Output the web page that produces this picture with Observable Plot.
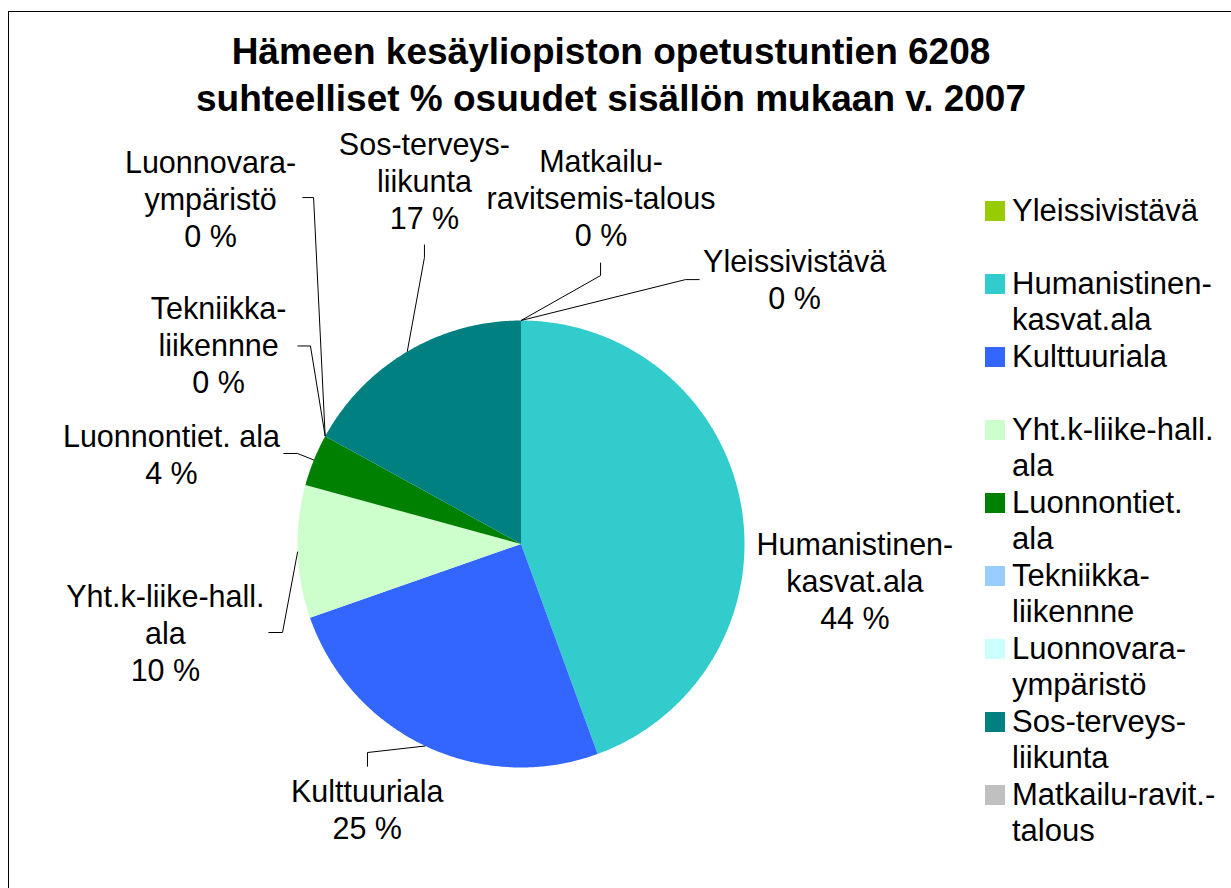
<!DOCTYPE html>
<html>
<head>
<meta charset="utf-8">
<script src="https://cdn.jsdelivr.net/npm/d3@7"></script>
<script src="https://cdn.jsdelivr.net/npm/@observablehq/plot@0.6"></script>
<style>
  html, body { margin: 0; padding: 0; background: #fff; }
  #wrap { position: relative; width: 1231px; height: 888px; overflow: hidden; background: #fff;
          font-family: "Liberation Sans", Arial, sans-serif; color: #000; }
  #frame { position: absolute; left: 8px; top: 11px; width: 1300px; height: 1000px;
           border-left: 1.5px solid #000; border-top: 1.5px solid #000; }
  #chart { position: absolute; left: 0; top: 0; }
  #title { position: absolute; left: 0; top: 29px; width: 1222px; text-align: center;
           font-weight: bold; font-size: 37px; line-height: 46.5px; }
  #legend { position: absolute; left: 985px; top: 0; }
  .item { position: absolute; left: 0; width: 240px; height: 73px; }
  .sw { position: absolute; left: 0; width: 20px; height: 20px; }
  .lt { position: absolute; left: 27px; font-size: 31px; line-height: 36.5px; white-space: pre; }
</style>
</head>
<body>
<div id="wrap">
  <div id="frame"></div>
  <div id="chart"></div>
  <div id="title">Hämeen kesäyliopiston opetustuntien 6208<br>suhteelliset % osuudet sisällön mukaan v. 2007</div>
  <div id="legend"></div>
</div>
<script>
// ---- data ----
const categories = [
  "Yleissivistävä",
  "Humanistinen-kasvat.ala",
  "Kulttuuriala",
  "Yht.k-liike-hall. ala",
  "Luonnontiet. ala",
  "Tekniikka-liikennne",
  "Luonnovara-ympäristö",
  "Sos-terveys-liikunta",
  "Matkailu-ravitsemis-talous"
];
const hours = [0, 2758, 1566, 596, 233, 0, 0, 1055, 0];
const colors = ["#99CC00", "#33CCCC", "#3366FF", "#CCFFCC", "#008000", "#99CCFF", "#CCFFFF", "#008080", "#C0C0C0"];
const pieLabels = [
  "Yleissivistävä",
  "Humanistinen-\nkasvat.ala",
  "Kulttuuriala",
  "Yht.k-liike-hall.\nala",
  "Luonnontiet. ala",
  "Tekniikka-\nliikennne",
  "Luonnovara-\nympäristö",
  "Sos-terveys-\nliikunta",
  "Matkailu-\nravitsemis-talous"
];
const legendLabels = [
  "Yleissivistävä",
  "Humanistinen-\nkasvat.ala",
  "Kulttuuriala",
  "Yht.k-liike-hall.\nala",
  "Luonnontiet.\nala",
  "Tekniikka-\nliikennne",
  "Luonnovara-\nympäristö",
  "Sos-terveys-\nliikunta",
  "Matkailu-ravit.-\ntalous"
];

// ---- layout (pie placement in px, label placement in pie-radius units) ----
const CX = 520.5, CY = 543.5, R = 223.5;
const labelLayout = [
  {t: [1.224, 1.188],  e: [0.736, 1.183],  f: [0.799, 1.183]},
  {t: [1.494, -0.161], e: null,            f: null},
  {t: [-0.688, -1.183], e: [-0.687, -0.933], f: [-0.687, -0.996]},
  {t: [-1.591, -0.396], e: [-1.067, -0.396], f: [-1.130, -0.396]},
  {t: [-1.564, 0.403],  e: [-1.000, 0.405],  f: [-1.063, 0.405]},
  {t: [-1.353, 0.893],  e: [-0.942, 0.886],  f: [-1.000, 0.886]},
  {t: [-1.389, 1.548],  e: [-0.928, 1.550],  f: [-0.978, 1.550]},
  {t: [-0.432, 1.629],  e: [-0.432, 1.282],  f: [-0.432, 1.340]},
  {t: [0.358, 1.550],   e: [0.356, 1.201],   f: [0.356, 1.259]}
];

// ---- build ----
const arcs = d3.pie().sort(null).value(d => d)(hours);
const total = d3.sum(hours);

const wedges = [];
arcs.forEach((p, i) => {
  const span = p.endAngle - p.startAngle;
  if (span <= 0) return;
  const cat = categories[i];
  const n = Math.max(2, Math.ceil(span / (Math.PI / 360)));
  wedges.push({cat, x: 0, y: 0});
  for (let k = 0; k <= n; k++) {
    const a = p.startAngle + span * k / n;
    wedges.push({cat, x: Math.sin(a), y: Math.cos(a)});
  }
  wedges.push({cat, x: 0, y: 0});
});

const leaders = [];
arcs.forEach((p, i) => {
  const L = labelLayout[i];
  if (!L.e) return;
  const mid = (p.startAngle + p.endAngle) / 2;
  const cat = categories[i];
  leaders.push({cat, x: Math.sin(mid), y: Math.cos(mid)});
  leaders.push({cat, x: L.e[0], y: L.e[1]});
  leaders.push({cat, x: L.f[0], y: L.f[1]});
});

const labels = arcs.map((p, i) => ({
  x: labelLayout[i].t[0],
  y: labelLayout[i].t[1],
  text: pieLabels[i] + "\n" + Math.round(hours[i] / total * 100) + " %"
}));

const plot = Plot.plot({
  width: 1231,
  height: 888,
  margin: 0,
  style: {background: "transparent", overflow: "visible"},
  x: {domain: [-1, 1], range: [CX - R, CX + R], axis: null},
  y: {domain: [-1, 1], range: [CY + R, CY - R], axis: null},
  color: {domain: categories, range: colors},
  marks: [
    Plot.line(wedges, {x: "x", y: "y", z: "cat", fill: "cat", stroke: "none", curve: "linear"}),
    Plot.line(leaders, {x: "x", y: "y", z: "cat", stroke: "#000", strokeWidth: 1, strokeLinecap: "butt", strokeLinejoin: "miter"}),
    Plot.text(labels, {x: "x", y: "y", text: "text", fontSize: 30.5, lineHeight: 37 / 30.5,
      fontFamily: "Liberation Sans, Arial, sans-serif", fill: "#000", textAnchor: "middle"})
  ]
});
document.getElementById("chart").appendChild(plot);

// ---- legend ----
const legend = document.getElementById("legend");
categories.forEach((c, i) => {
  const item = document.createElement("div");
  item.className = "item";
  item.style.top = (192.75 + 73 * i) + "px";
  const sw = document.createElement("div");
  sw.className = "sw";
  sw.style.top = "8.25px";
  sw.style.background = colors[i];
  const lt = document.createElement("div");
  lt.className = "lt";
  lt.style.top = "0px";
  lt.textContent = legendLabels[i];
  item.appendChild(sw);
  item.appendChild(lt);
  legend.appendChild(item);
});
</script>
</body>
</html>
